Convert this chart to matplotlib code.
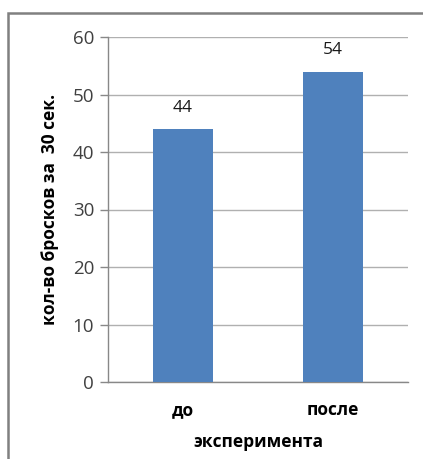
import matplotlib.pyplot as plt
from matplotlib.patches import Rectangle

# данные: количество бросков до и после эксперимента
categories = ["до", "после"]
values = [44, 54]
y_ticks = [0, 10, 20, 30, 40, 50, 60]

plt.rcParams['font.family'] = ['Open Sans', 'DejaVu Sans']

fig = plt.figure(figsize=(4.23, 4.59), dpi=100)
ax = fig.add_axes([108 / 423, 77 / 459, 300 / 423, 345 / 459])

x = range(len(categories))
bars = ax.bar(x, values, width=0.4, color="#4f81bd", zorder=3)
for b, v in zip(bars, values):
    ax.text(b.get_x() + b.get_width() / 2, v + 2.3, str(v),
            ha="center", va="bottom", fontsize=12.5, color="#1a1a1a")

ax.set_xlim(-0.5, 1.5)
ax.set_ylim(0, 60)
ax.set_yticks(y_ticks)
ax.set_xticks(list(x))
ax.set_xticklabels(categories, fontsize=12.5, fontweight="bold")
ax.tick_params(axis="y", labelsize=13.5, colors="#404040", length=6,
               width=1, color="#888888", pad=4)
ax.tick_params(axis="x", length=0, pad=14, labelcolor="black")
ax.grid(axis="y", color="#b0b0b0", linewidth=1, zorder=0)

for s in ["top", "right"]:
    ax.spines[s].set_visible(False)
for s in ["left", "bottom"]:
    ax.spines[s].set_color("#888888")
    ax.spines[s].set_linewidth(1)

ax.set_ylabel("кол-во бросков за  30 сек.", fontsize=12.5,
              fontweight="bold", labelpad=10)
ax.set_xlabel("эксперимента", fontsize=12.5, fontweight="bold", labelpad=10)

# рамка области диаграммы
fig.patches.append(Rectangle((8 / 423, -0.1), 1.2, (459 - 13) / 459 + 0.1,
                             transform=fig.transFigure, fill=False,
                             edgecolor="#808080", linewidth=1.8))

fig.savefig("out.png", dpi=100)
